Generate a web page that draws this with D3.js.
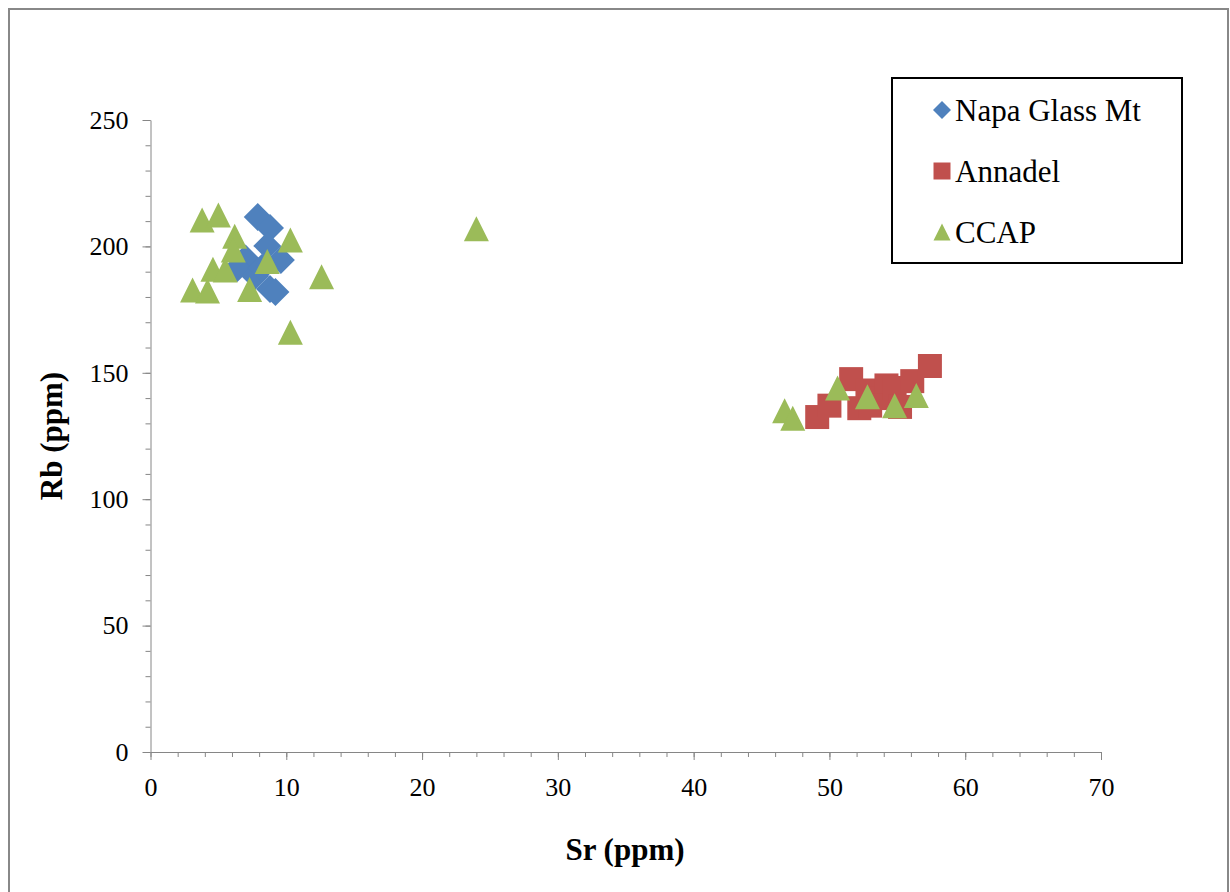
<!DOCTYPE html>
<html>
<head>
<meta charset="utf-8">
<script src="https://cdn.jsdelivr.net/npm/d3@7"></script>
<style>
  body { margin: 0; background: #fff; }
  text { font-family: "Liberation Serif", "Times New Roman", serif; }
</style>
</head>
<body>
<div id="chart"></div>
<script>
// chart size
var chart_width = 1230;
var chart_height = 892;

// data: [Sr, Rb]
var napa = [[7.9, 211.6], [8.8, 207.3], [8.6, 200.2], [9.6, 194.6], [7.0, 195.2],
  [6.4, 191.5], [7.7, 188.3], [8.8, 183.1], [8.2, 191.5], [9.2, 182.0]];
var annadel = [[49.1, 132.5], [50.0, 137.0], [51.6, 147.5], [52.2, 136.0], [52.8, 143.0],
  [53.6, 140.0], [54.2, 145.0], [54.8, 144.0], [55.2, 136.5], [56.1, 146.7],
  [57.4, 152.7], [53.0, 137.0]];
var ccap = [[3.8, 210.4], [5.0, 212.4], [6.2, 204.0], [6.1, 198.6], [10.3, 202.5],
  [4.6, 191.0], [5.5, 190.7], [8.6, 194.0], [3.1, 182.8], [4.2, 182.4],
  [7.3, 183.0], [12.6, 188.0], [10.3, 166.0], [24.0, 207.0],
  [46.7, 135.0], [47.3, 132.0], [50.6, 144.0], [52.8, 140.5], [54.8, 137.0], [56.4, 141.0]];
var seriesNames = ["Napa Glass Mt", "Annadel", "CCAP"];
var seriesColors = ["#4F81BD", "#C0504D", "#9BBB59"];
var xTicks = [0, 10, 20, 30, 40, 50, 60, 70];
var yTicks = [0, 50, 100, 150, 200, 250];

var svg = d3.select("#chart").append("svg")
  .attr("width", chart_width)
  .attr("height", chart_height);

// outer frame
svg.append("rect")
  .attr("x", 9).attr("y", 9)
  .attr("width", 1219).attr("height", 900)
  .attr("fill", "#fff")
  .attr("stroke", "#888").attr("stroke-width", 2);

var x = d3.scaleLinear().domain([0, 70]).range([150.5, 1101]);
var y = d3.scaleLinear().domain([0, 250]).range([752, 120]);

var axisColor = "#868686";

// minor ticks
svg.append("g").attr("transform", "translate(0,752)")
  .call(d3.axisBottom(x).tickValues(d3.range(0, 71, 2)).tickSize(5).tickFormat(""))
  .call(g => g.select(".domain").remove());
svg.append("g").attr("transform", "translate(150.5,0)")
  .call(d3.axisLeft(y).tickValues(d3.range(0, 251, 10)).tickSize(5).tickFormat(""))
  .call(g => g.select(".domain").remove());

// major ticks + labels
var xAxis = svg.append("g").attr("transform", "translate(0,752)")
  .call(d3.axisBottom(x).tickValues(xTicks).tickSize(8).tickPadding(18).tickSizeOuter(0));
var yAxis = svg.append("g").attr("transform", "translate(150.5,0)")
  .call(d3.axisLeft(y).tickValues(yTicks).tickSize(8).tickPadding(14).tickSizeOuter(0));

svg.selectAll(".tick line").attr("stroke", axisColor);
svg.selectAll(".domain").attr("stroke", axisColor);
svg.selectAll(".tick text")
  .attr("fill", "#000")
  .style("font-family", "'Liberation Serif', serif")
  .style("font-size", "26px");

// axis titles
svg.append("text")
  .attr("x", 625).attr("y", 860)
  .attr("text-anchor", "middle")
  .style("font-size", "31px").style("font-weight", "bold")
  .text("Sr (ppm)");
svg.append("text")
  .attr("transform", "translate(62,436) rotate(-90)")
  .attr("text-anchor", "middle")
  .style("font-size", "31px").style("font-weight", "bold")
  .text("Rb (ppm)");

// marker shapes
function diamond(cx, cy, r) {
  return "M" + cx + "," + (cy - r) + "L" + (cx + r) + "," + cy + "L" + cx + "," + (cy + r) + "L" + (cx - r) + "," + cy + "Z";
}
function square(cx, cy, r) {
  return "M" + (cx - r) + "," + (cy - r) + "h" + (2 * r) + "v" + (2 * r) + "h" + (-2 * r) + "Z";
}
function triangle(cx, cy, r) {
  return "M" + cx + "," + (cy - r) + "L" + (cx + r) + "," + (cy + r) + "L" + (cx - r) + "," + (cy + r) + "Z";
}

svg.append("g").selectAll("path").data(napa).enter().append("path")
  .attr("d", function(d) { return diamond(x(d[0]), y(d[1]), 14); })
  .attr("fill", seriesColors[0]);
svg.append("g").selectAll("path").data(annadel).enter().append("path")
  .attr("d", function(d) { return square(x(d[0]), y(d[1]), 12); })
  .attr("fill", seriesColors[1]);
svg.append("g").selectAll("path").data(ccap).enter().append("path")
  .attr("d", function(d) { return triangle(x(d[0]), y(d[1]), 12.5); })
  .attr("fill", seriesColors[2]);

// legend
var legend = svg.append("g");
legend.append("rect")
  .attr("x", 892).attr("y", 78)
  .attr("width", 290).attr("height", 185)
  .attr("fill", "#fff").attr("stroke", "#000").attr("stroke-width", 2);
var shapes = [diamond, square, triangle];
var legendY = [110, 171, 232];
seriesNames.forEach(function(name, i) {
  legend.append("path")
    .attr("d", shapes[i](942, legendY[i], i === 0 ? 9 : 8.5))
    .attr("fill", seriesColors[i]);
  legend.append("text")
    .attr("x", 955).attr("y", legendY[i])
    .attr("dy", "0.35em")
    .style("font-size", "31px")
    .text(name);
});
</script>
</body>
</html>
